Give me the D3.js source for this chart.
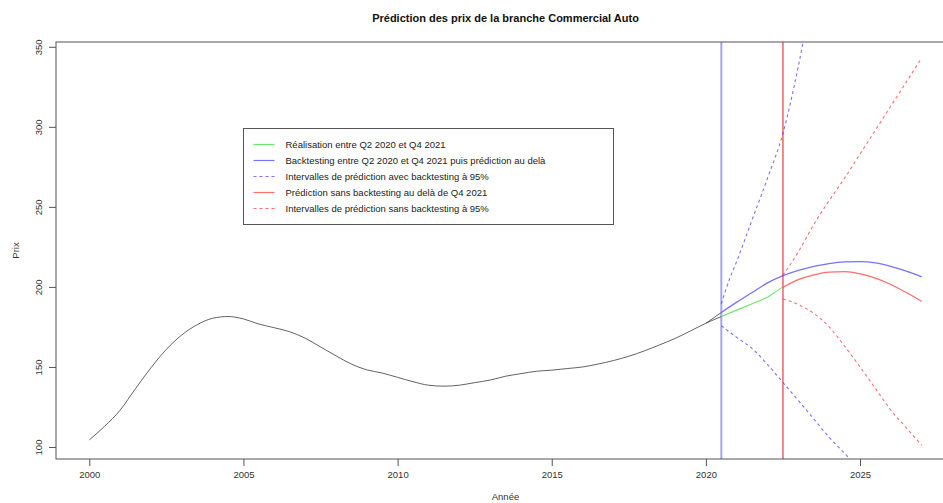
<!DOCTYPE html>
<html>
<head>
<meta charset="utf-8">
<script src="https://cdn.jsdelivr.net/npm/d3@7"></script>
<style>
  html, body { margin: 0; padding: 0; background: #fff; }
  svg { display: block; font-family: "Liberation Sans", Arial, sans-serif; }
</style>
</head>
<body>
<svg id="chart" width="943" height="503"></svg>
<script>
// Historical price index (year, price)
const histYears = [2000, 2000.5, 2001, 2001.5, 2002, 2002.5, 2003, 2003.5, 2004, 2004.5,
  2005, 2005.5, 2006, 2006.5, 2007, 2007.5, 2008, 2008.5, 2009, 2009.5,
  2010, 2010.5, 2011, 2011.5, 2012, 2012.5, 2013, 2013.5, 2014, 2014.5,
  2015, 2015.5, 2016, 2016.5, 2017, 2017.5, 2018, 2018.5, 2019, 2019.5, 2020, 2020.5];
const histPrices = [104.4, 113, 123, 136.5, 149.5, 161, 170, 176.4, 180.4, 181.5,
  180, 176.8, 174.5, 172, 168, 162.5, 157, 151.8, 148.2, 146.2,
  143.5, 140.8, 138.6, 138, 138.6, 140.2, 141.8, 144.2, 145.8, 147.3,
  148, 149, 150, 151.8, 154, 156.7, 160, 163.8, 167.8, 172.5, 177.3, 181.5];

// Junction of the history with the backtesting start
const joinYears = [2020, 2020.5];
const joinPrices = [177.3, 184];

// Realised prices Q2 2020 - Q4 2021
const realYears = [2020.5, 2021, 2021.5, 2022, 2022.5];
const realPrices = [181.5, 185.5, 189.5, 193.5, 200];

// Backtesting then forecast
const backYears = [2020.5, 2021, 2021.5, 2022, 2022.5, 2023, 2023.5, 2024, 2024.5,
  2025, 2025.5, 2026, 2026.5, 2027];
const backPrices = [184, 190.5, 196.5, 202.5, 207, 210.3, 212.8, 214.6, 215.6,
  215.8, 215, 212.8, 209.8, 206.3];

// 95% interval with backtesting
const backIntYears = [2020.5, 2020.75, 2021, 2021.5, 2022, 2022.5, 2023, 2023.5, 2024, 2024.5, 2025];
const backUpper = [189.4, 204, 216, 242, 268, 296, 338, 390, 450, null, null];
const backLower = [175.8, 172, 168.5, 161.5, 151.5, 140.3, 129, 117.5, 106, 96, 86];

// Forecast without backtesting
const fcYears = [2022.5, 2023, 2023.5, 2024, 2024.5, 2025, 2025.5, 2026, 2026.5, 2027];
const fcPrices = [199.8, 204.5, 207.5, 209.2, 209.5, 208.2, 205.5, 201.5, 196.5, 191];
const fcUpper = [207.2, 222, 239, 254, 268, 283, 298, 313, 328, 343];
const fcLower = [192.5, 189, 183.5, 175, 163, 150, 136.5, 123, 112, 101];

// Vertical markers
const cutBacktest = 2020.5;
const cutForecast = 2022.5;

// Axis ticks
const xTicks = [2000, 2005, 2010, 2015, 2020, 2025];
const yTicks = [100, 150, 200, 250, 300, 350];

const legendItems = [
  { label: "Réalisation entre Q2 2020 et Q4 2021", color: "rgba(60,220,60,0.75)", dash: null },
  { label: "Backtesting entre Q2 2020 et Q4 2021 puis prédiction au delà", color: "rgba(70,70,255,0.75)", dash: null },
  { label: "Intervalles de prédiction avec backtesting à 95%", color: "rgba(70,70,255,0.75)", dash: "3,3" },
  { label: "Prédiction sans backtesting au delà de Q4 2021", color: "rgba(255,60,60,0.75)", dash: null },
  { label: "Intervalles de prédiction sans backtesting à 95%", color: "rgba(255,60,60,0.75)", dash: "3,3" }
];

const svg = d3.select("#chart");
const plot = { left: 56, top: 42, right: 955, bottom: 459 };

const x = d3.scaleLinear().domain([1998.92, 2028.08]).range([plot.left, plot.right]);
const y = d3.scaleLinear().domain([92.5, 353]).range([plot.bottom, plot.top]);

svg.append("defs").append("clipPath").attr("id", "clip")
  .append("rect")
  .attr("x", plot.left).attr("y", plot.top)
  .attr("width", plot.right - plot.left).attr("height", plot.bottom - plot.top);

const g = svg.append("g").attr("clip-path", "url(#clip)");

const zipPts = (xs, ys) => xs.map((v, i) => [v, ys[i]]);

function draw(xs, ys, color, width, dash, curve) {
  const line = d3.line()
    .defined(d => d[1] != null)
    .curve(curve || d3.curveMonotoneX)
    .x(d => x(d[0])).y(d => y(d[1]));
  g.append("path")
    .datum(zipPts(xs, ys))
    .attr("fill", "none")
    .attr("stroke", color)
    .attr("stroke-width", width)
    .attr("stroke-dasharray", dash)
    .attr("d", line);
}

// Vertical lines
g.append("line")
  .attr("x1", x(cutBacktest)).attr("x2", x(cutBacktest))
  .attr("y1", plot.top).attr("y2", plot.bottom)
  .attr("stroke", "rgba(90,90,255,0.55)").attr("stroke-width", 2);
g.append("line")
  .attr("x1", x(cutForecast)).attr("x2", x(cutForecast))
  .attr("y1", plot.top).attr("y2", plot.bottom)
  .attr("stroke", "#e82828").attr("stroke-width", 1.1);

draw(histYears, histPrices, "rgba(60,60,60,0.8)", 1, null);
draw(joinYears, joinPrices, "rgba(60,60,60,0.8)", 1, null, d3.curveLinear);
draw(realYears, realPrices, legendItems[0].color, 1.1, null, d3.curveLinear);
draw(backYears, backPrices, legendItems[1].color, 1.3, null);
draw(backIntYears, backUpper, legendItems[2].color, 1.1, "3,3");
draw(backIntYears, backLower, legendItems[2].color, 1.1, "3,3");
draw(fcYears, fcPrices, legendItems[3].color, 1.3, null);
draw(fcYears, fcUpper, legendItems[4].color, 1.1, "3,3");
draw(fcYears, fcLower, legendItems[4].color, 1.1, "3,3");

// Frame
svg.append("rect")
  .attr("x", plot.left).attr("y", plot.top)
  .attr("width", plot.right - plot.left).attr("height", plot.bottom - plot.top)
  .attr("fill", "none").attr("stroke", "#555").attr("stroke-width", 1);

// X axis
const xAxis = svg.append("g")
  .attr("transform", `translate(0,${plot.bottom})`)
  .call(d3.axisBottom(x).tickValues(xTicks).tickFormat(d3.format("d")).tickSize(7).tickPadding(5));
xAxis.select(".domain").remove();
xAxis.selectAll("line").attr("stroke", "#555");
xAxis.selectAll("text").attr("fill", "#333").style("font-size", "9.5px")
  .style("font-family", "'Liberation Sans', Arial, sans-serif");

// Y axis with labels parallel to the axis
const yAxis = svg.append("g")
  .attr("transform", `translate(${plot.left},0)`)
  .call(d3.axisLeft(y).tickValues(yTicks).tickSize(7));
yAxis.select(".domain").remove();
yAxis.selectAll("line").attr("stroke", "#555");
yAxis.selectAll("text")
  .attr("fill", "#333").style("font-size", "9.5px")
  .style("font-family", "'Liberation Sans', Arial, sans-serif")
  .attr("x", null).attr("dy", null)
  .attr("text-anchor", "middle")
  .attr("transform", "translate(-14,0) rotate(-90)");

// Titles
svg.append("text")
  .attr("x", (plot.left + plot.right) / 2).attr("y", 22)
  .attr("text-anchor", "middle")
  .style("font-size", "11px").style("font-weight", "bold").attr("fill", "#111")
  .text("Prédiction des prix de la branche Commercial Auto");

svg.append("text")
  .attr("x", (plot.left + plot.right) / 2).attr("y", 500)
  .attr("text-anchor", "middle")
  .style("font-size", "9.5px").attr("fill", "#333")
  .text("Année");

svg.append("text")
  .attr("transform", `translate(19,${(plot.top + plot.bottom) / 2}) rotate(-90)`)
  .attr("text-anchor", "middle")
  .style("font-size", "9.5px").attr("fill", "#333")
  .text("Prix");

// Legend
const legend = svg.append("g").attr("transform", "translate(243.5,128.5)");
legend.append("rect")
  .attr("x", 0).attr("y", 0).attr("width", 370).attr("height", 96)
  .attr("fill", "#fff").attr("stroke", "#555").attr("stroke-width", 1);
legendItems.forEach((it, i) => {
  const cy = 16 + i * 16;
  legend.append("line")
    .attr("x1", 10).attr("x2", 31).attr("y1", cy).attr("y2", cy)
    .attr("stroke", it.color).attr("stroke-width", 1.2)
    .attr("stroke-dasharray", it.dash);
  legend.append("text")
    .attr("x", 42).attr("y", cy).attr("dy", "0.35em")
    .style("font-size", "9.5px").attr("fill", "#222")
    .text(it.label);
});
</script>
</body>
</html>
